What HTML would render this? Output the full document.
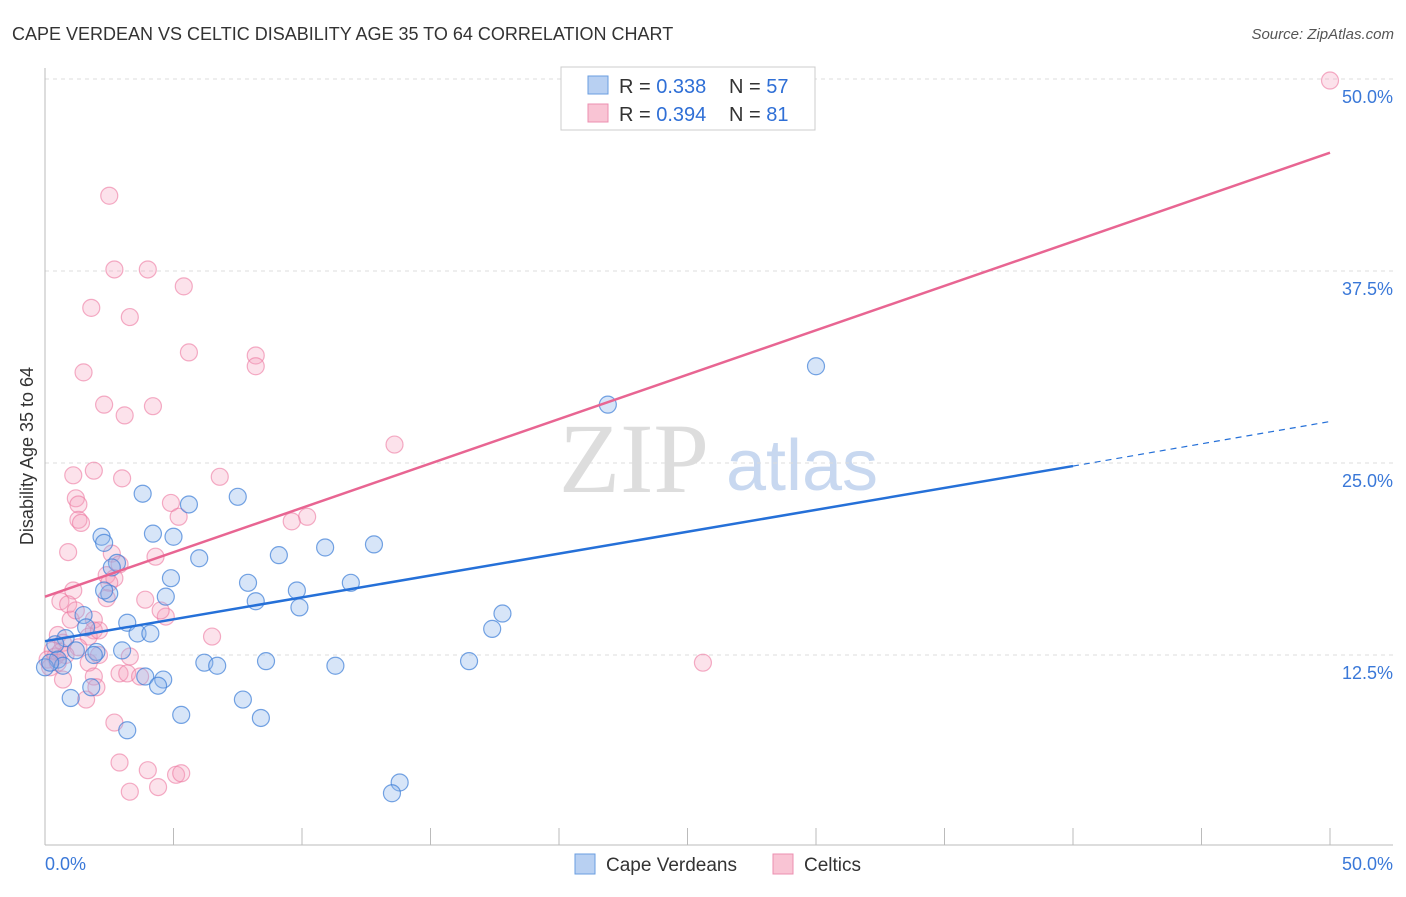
<!DOCTYPE html>
<html><head><meta charset="utf-8"><style>
body{margin:0;background:#fff;font-family:"Liberation Sans",sans-serif}
svg text{font-family:"Liberation Sans",sans-serif}
</style></head><body>
<svg id="c" width="1406" height="892">
<text x="12" y="40" font-size="18" fill="#333">CAPE VERDEAN VS CELTIC DISABILITY AGE 35 TO 64 CORRELATION CHART</text>
<text x="1394" y="39" font-size="15" fill="#555" text-anchor="end" font-style="italic">Source: ZipAtlas.com</text>
<text x="634" y="492" font-size="100" fill="#ddd" style="font-family:'Liberation Serif',serif" text-anchor="middle">ZIP</text>
<text x="802" y="490" font-size="72" fill="#c8d8f0" text-anchor="middle">atlas</text>
<text transform="translate(33,456) rotate(-90)" font-size="18" fill="#333" text-anchor="middle">Disability Age 35 to 64</text>
<g id="grid"></g><g id="pts"></g><g id="lines"></g>
<g>
<rect x="561" y="67" width="254" height="63" fill="#fff" stroke="#ccc"/>
<rect x="588" y="76" width="20" height="18" fill="#b8d0f2" stroke="#6a9ee0"/>
<rect x="588" y="104" width="20" height="18" fill="#f9c4d4" stroke="#ec8fb0"/>
<text x="619" y="93" font-size="20" fill="#333">R = <tspan fill="#2f6fd6">0.338</tspan></text>
<text x="729" y="93" font-size="20" fill="#333">N = <tspan fill="#2f6fd6">57</tspan></text>
<text x="619" y="121" font-size="20" fill="#333">R = <tspan fill="#2f6fd6">0.394</tspan></text>
<text x="729" y="121" font-size="20" fill="#333">N =  <tspan fill="#2f6fd6">81</tspan></text>
</g>
<g>
<rect x="575" y="854" width="20" height="20" fill="#b8d0f2" stroke="#6a9ee0"/>
<text x="606" y="871" font-size="19" fill="#333">Cape Verdeans</text>
<rect x="773" y="854" width="20" height="20" fill="#f9c4d4" stroke="#ec8fb0"/>
<text x="804" y="871" font-size="19" fill="#333">Celtics</text>
</g>
</svg>
<script>
const blueX=[30.0,21.9,3.8,7.5,5.6,4.2,2.2,5.0,2.3,12.8,10.9,6.0,9.1,2.8,7.9,11.9,4.9,9.8,2.5,4.7,8.2,9.9,17.8,1.5,1.6,3.2,17.4,3.6,4.1,0.8,0.4,3.0,2.0,1.9,1.2,0.5,0.0,0.7,6.2,6.7,8.6,11.3,16.5,3.9,4.6,4.4,1.8,1.0,7.7,5.3,8.4,3.2,13.8,13.5,2.6,2.3,0.2];
const blueY=[31.3,28.8,23.0,22.8,22.3,20.4,20.2,20.2,19.8,19.7,19.5,18.8,19.0,18.5,17.2,17.2,17.5,16.7,16.5,16.3,16.0,15.6,15.2,15.1,14.3,14.6,14.2,13.9,13.9,13.6,13.2,12.8,12.7,12.5,12.8,12.2,11.7,11.8,12.0,11.8,12.1,11.8,12.1,11.1,10.9,10.5,10.4,9.7,9.6,8.6,8.4,7.6,4.2,3.5,18.2,16.7,12.0];
const pinkX=[50.0,2.5,2.7,4.0,5.4,1.8,3.3,5.6,8.2,8.2,1.5,2.3,4.2,3.1,13.6,1.1,1.9,3.0,6.8,1.2,1.3,4.9,5.2,1.3,1.4,10.2,9.6,0.9,2.6,4.3,2.9,2.4,2.7,2.5,1.1,3.9,2.4,0.6,0.9,4.7,1.0,1.9,1.9,6.5,0.5,1.7,0.7,1.3,0.3,0.4,0.6,0.1,2.1,3.3,1.7,2.9,3.2,1.9,3.7,0.7,2.0,1.6,25.6,2.7,2.9,4.0,5.1,5.3,4.4,3.3,0.2,0.5,0.8,2.1,1.2,4.5];
const pinkY=[49.9,42.4,37.6,37.6,36.5,35.1,34.5,32.2,32.0,31.3,30.9,28.8,28.7,28.1,26.2,24.2,24.5,24.0,24.1,22.7,22.3,22.4,21.5,21.3,21.1,21.5,21.2,19.2,19.1,18.9,18.4,17.7,17.5,17.2,16.7,16.1,16.2,16.0,15.8,15.0,14.8,14.8,14.1,13.7,13.8,13.7,13.3,13.0,12.8,12.4,12.7,12.2,12.5,12.4,12.0,11.3,11.3,11.1,11.1,10.9,10.4,9.6,12.0,8.1,5.5,5.0,4.7,4.8,3.9,3.6,11.7,12.0,12.5,14.1,15.4,15.4];
const yTicks=[12.5,25.0,37.5,50.0];
const blueTrend=[13.4,24.8,27.7]; // at x=0,40,50
const pinkTrend=[16.3,45.2]; // at x=0,50
const X=v=>45+v*25.7, Y=v=>847-v*15.36;
const NS='http://www.w3.org/2000/svg';
function mk(t,a,p){const e=document.createElementNS(NS,t);for(const k in a)e.setAttribute(k,a[k]);p.appendChild(e);return e;}
const grid=document.getElementById('grid');
yTicks.forEach(t=>{
 const l=mk('line',{x1:45,x2:1393,y1:Y(t),y2:Y(t),stroke:'#ddd','stroke-dasharray':'4,4'},grid);
 
 
 const tx=mk('text',{x:1393,y:Y(t)+24,'font-size':18,fill:'#3a78d8','text-anchor':'end'},grid);
 tx.textContent=t.toFixed(1)+'%';
 
 
});
mk('line',{x1:45,x2:45,y1:68,y2:845,stroke:'#bbb'},grid);
mk('line',{x1:45,x2:1393,y1:845,y2:845,stroke:'#bbb'},grid);
for(let k=0;k<=10;k++){mk('line',{x1:X(k*5),x2:X(k*5),y1:828,y2:845,stroke:'#bbb'},grid);}
const xl=mk('text',{x:45,y:870,'font-size':18,fill:'#3a78d8'},grid);xl.textContent='0.0%';


const xr=mk('text',{x:1393,y:870,'font-size':18,fill:'#3a78d8','text-anchor':'end'},grid);xr.textContent='50.0%';


const pts=document.getElementById('pts');
pinkX.forEach((x,i)=>{const c=mk('circle',{cx:X(x),cy:Y(pinkY[i]),r:8.5,fill:'rgba(246,160,188,0.3)',stroke:'rgba(236,120,160,0.6)','stroke-width':1.2},pts);
 
 });
blueX.forEach((x,i)=>{const c=mk('circle',{cx:X(x),cy:Y(blueY[i]),r:8.5,fill:'rgba(140,180,235,0.35)',stroke:'rgba(60,125,215,0.7)','stroke-width':1.2},pts);
 
 });
const L=document.getElementById('lines');
const b1=mk('line',{x1:X(0),y1:Y(blueTrend[0]),x2:X(40),y2:Y(blueTrend[1]),stroke:'#2570d8','stroke-width':2.5},L);


const b2=mk('line',{x1:X(40),y1:Y(blueTrend[1]),x2:X(50),y2:Y(blueTrend[2]),stroke:'#2570d8','stroke-width':1.2,'stroke-dasharray':'6,5'},L);


const p1=mk('line',{x1:X(0),y1:Y(pinkTrend[0]),x2:X(50),y2:Y(pinkTrend[1]),stroke:'#e86592','stroke-width':2.5},L);


</script>
</body></html>
